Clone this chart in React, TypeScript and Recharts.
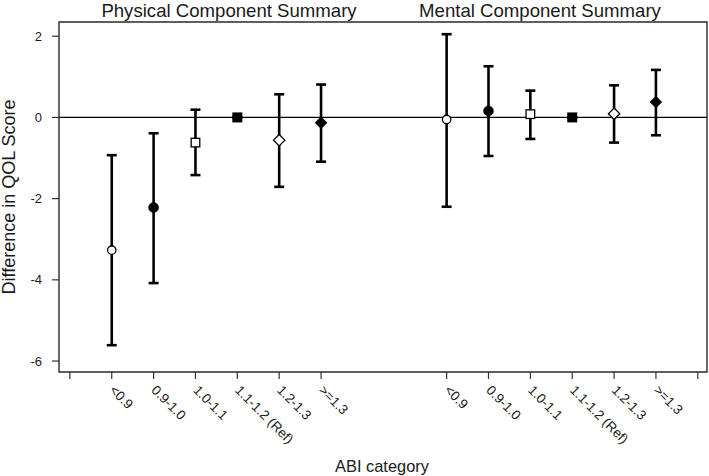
import React from 'react';
import {
  ScatterChart,
  Scatter,
  XAxis,
  YAxis,
  ErrorBar,
  ReferenceLine,
} from 'recharts';

const categories = ['<0.9', '0.9-1.0', '1.0-1.1', '1.1-1.2 (Ref)', '1.2-1.3', '>=1.3'];

const physicalEstimate = [-3.27, -2.22, -0.62, 0, -0.56, -0.13];
const physicalLower = [-5.61, -4.08, -1.42, 0, -1.71, -1.09];
const physicalUpper = [-0.93, -0.39, 0.19, 0, 0.57, 0.81];

const mentalEstimate = [-0.05, 0.16, 0.08, 0, 0.09, 0.38];
const mentalLower = [-2.2, -0.95, -0.53, 0, -0.62, -0.44];
const mentalUpper = [2.05, 1.26, 0.66, 0, 0.79, 1.17];

const physicalPositions = [1, 2, 3, 4, 5, 6];
const mentalPositions = [9, 10, 11, 12, 13, 14];
const xTicks = [0, 1, 2, 3, 4, 5, 6, 9, 10, 11, 12, 13, 14, 15];
const yTicks = [-6, -4, -2, 0, 2];

const xDomain = [-0.26, 15.22];
const yDomain = [-6.27, 2.35];

const markerTypes = ['openCircle', 'filledCircle', 'openSquare', 'filledSquare', 'openDiamond', 'filledDiamond'];

const FONT = '"Liberation Sans", Arial, Helvetica, sans-serif';
const TEXT = '#1a1a1a';

// layout
const W = 709;
const H = 476;
const PLOT_LEFT = 59;
const PLOT_TOP = 22;
const PLOT_RIGHT_MARGIN = 2;
const X_AXIS_H = 104;

const buildPoints = (est: number[], lo: number[], hi: number[], pos: number[]) =>
  est.map((v, i) => ({
    x: pos[i],
    y: v,
    err: [v - lo[i], hi[i] - v],
    marker: markerTypes[i],
  }));

const physicalData = buildPoints(physicalEstimate, physicalLower, physicalUpper, physicalPositions);
const mentalData = buildPoints(mentalEstimate, mentalLower, mentalUpper, mentalPositions);

const labelFor = (v: number) => {
  const p = physicalPositions.indexOf(v);
  if (p >= 0) return categories[p];
  const m = mentalPositions.indexOf(v);
  if (m >= 0) return categories[m];
  return '';
};

const Marker = (props: any) => {
  const { cx, cy, payload } = props;
  if (cx == null || cy == null) return null;
  const t = payload.marker;
  switch (t) {
    case 'openCircle':
      return <circle cx={cx} cy={cy} r={4.2} fill="#fff" stroke="#000" strokeWidth={1.3} />;
    case 'filledCircle':
      return <circle cx={cx} cy={cy} r={5} fill="#000" stroke="#000" strokeWidth={0.5} />;
    case 'openSquare':
      return <rect x={cx - 4.3} y={cy - 4.3} width={8.6} height={8.6} fill="#fff" stroke="#000" strokeWidth={1.3} />;
    case 'filledSquare':
      return <rect x={cx - 5} y={cy - 5} width={10} height={10} fill="#000" />;
    case 'openDiamond':
      return (
        <polygon
          points={`${cx},${cy - 5.7} ${cx + 5.7},${cy} ${cx},${cy + 5.7} ${cx - 5.7},${cy}`}
          fill="#fff"
          stroke="#000"
          strokeWidth={1.3}
        />
      );
    default:
      return (
        <polygon
          points={`${cx},${cy - 6.3} ${cx + 6.3},${cy} ${cx},${cy + 6.3} ${cx - 6.3},${cy}`}
          fill="#000"
        />
      );
  }
};

const AngledTick = (props: any) => {
  const { x, y, payload } = props;
  const label = labelFor(payload.value);
  if (!label) return null;
  return (
    <g transform={`translate(${x - 3},${y + 10})`}>
      <text
        x={0}
        y={0}
        transform="rotate(45)"
        textAnchor="start"
        fontSize={13.5}
        fontFamily={FONT}
        fill={TEXT}
      >
        {label}
      </text>
    </g>
  );
};

export default function App() {
  const plotW = W - PLOT_LEFT - PLOT_RIGHT_MARGIN;
  const plotH = H - PLOT_TOP - X_AXIS_H;
  return (
    <div style={{ position: 'absolute', left: 0, top: 0, width: W, height: H, background: '#fff' }}>
      <ScatterChart width={W} height={H} margin={{ top: PLOT_TOP, right: PLOT_RIGHT_MARGIN, bottom: 0, left: 0 }}>
        <XAxis
          type="number"
          dataKey="x"
          domain={xDomain}
          ticks={xTicks}
          interval={0}
          allowDataOverflow
          axisLine={false}
          tickLine={{ stroke: '#333', strokeWidth: 1.2 }}
          tickSize={7}
          tickMargin={2}
          height={X_AXIS_H}
          tick={<AngledTick />}
        />
        <YAxis
          type="number"
          dataKey="y"
          domain={yDomain}
          ticks={yTicks}
          allowDataOverflow
          axisLine={false}
          tickLine={{ stroke: '#333', strokeWidth: 1.2 }}
          tickSize={7}
          tickMargin={10}
          width={PLOT_LEFT}
          tick={{ fontSize: 13, fontFamily: FONT, fill: TEXT }}
        />
        <ReferenceLine y={0} stroke="#000" strokeWidth={1.2} />
        <Scatter data={physicalData} isAnimationActive={false} shape={<Marker />}>
          <ErrorBar dataKey="err" direction="y" width={5} stroke="#000" strokeWidth={2.6} isAnimationActive={false} />
        </Scatter>
        <Scatter data={mentalData} isAnimationActive={false} shape={<Marker />}>
          <ErrorBar dataKey="err" direction="y" width={5} stroke="#000" strokeWidth={2.6} isAnimationActive={false} />
        </Scatter>
      </ScatterChart>
      <svg
        width={W}
        height={H}
        style={{ position: 'absolute', left: 0, top: 0, pointerEvents: 'none' }}
      >
        <path
          d={`M${PLOT_LEFT},${PLOT_TOP} H${PLOT_LEFT + plotW} V${PLOT_TOP + plotH} H${PLOT_LEFT} Z`}
          fill="none"
          stroke="#2a2a2a"
          strokeWidth={1.4}
        />
        <text x={229} y={16.5} textAnchor="middle" fontSize={18.6} fontFamily={FONT} fill={TEXT}>
          Physical Component Summary
        </text>
        <text x={540} y={16.5} textAnchor="middle" fontSize={18.6} fontFamily={FONT} fill={TEXT}>
          Mental Component Summary
        </text>
        <text x={382} y={472} textAnchor="middle" fontSize={16.4} fontFamily={FONT} fill={TEXT}>
          ABI category
        </text>
        <text
          x={15}
          y={197}
          textAnchor="middle"
          fontSize={18}
          fontFamily={FONT}
          fill={TEXT}
          transform="rotate(-90, 15, 197)"
        >
          Difference in QOL Score
        </text>
      </svg>
    </div>
  );
}
